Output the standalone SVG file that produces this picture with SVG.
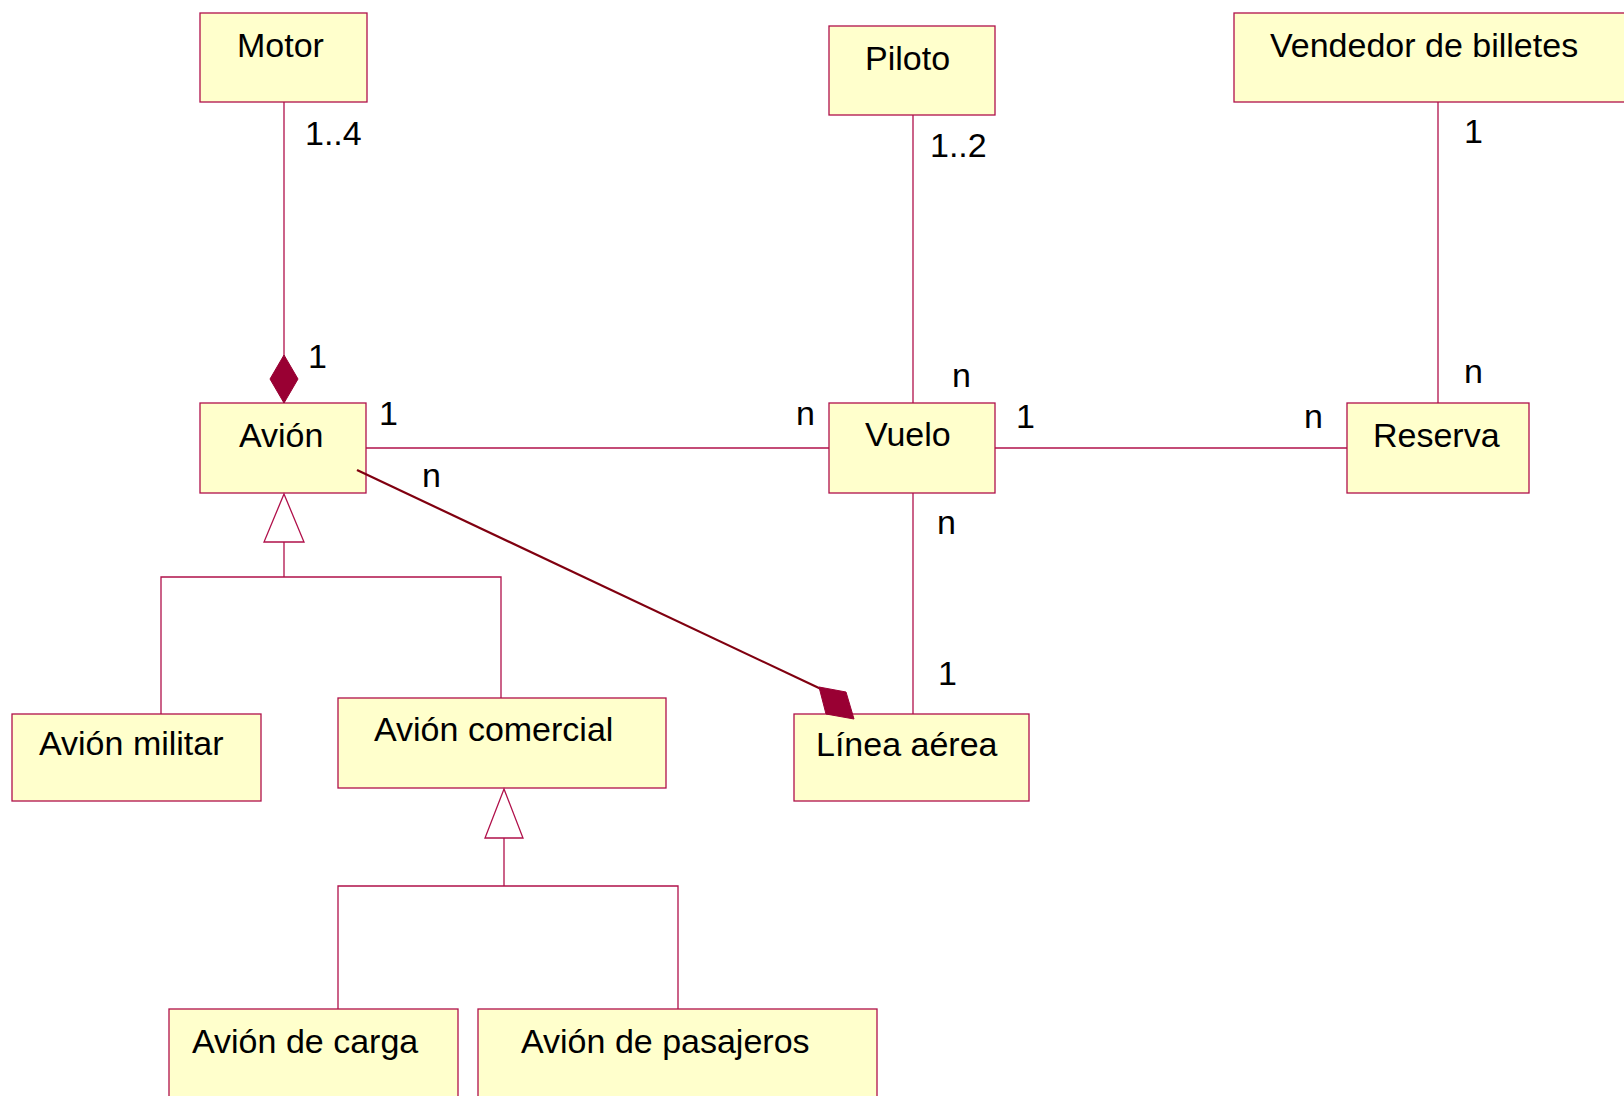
<svg xmlns="http://www.w3.org/2000/svg" width="1624" height="1096" viewBox="0 0 1624 1096">
  <style>
    .box { fill: #FFFFCC; stroke: #B0104A; stroke-width: 1.3; }
    .lbl { font-family: "Liberation Sans", Arial, sans-serif; font-size: 34px; fill: #000; }
    .link { fill: none; stroke: #B0104A; stroke-width: 1.3; }
    .comp { fill: none; stroke: #800010; stroke-width: 2.2; }
    .diamond { fill: #990033; stroke: #990033; stroke-width: 1; }
    .gen { fill: #FFFFFF; stroke: #B0104A; stroke-width: 1.3; }
  </style>
  <rect width="1624" height="1096" fill="#FFFFFF"/>

  <!-- nodes -->
  <g id="motor">
    <rect class="box" x="200" y="13" width="167" height="89"/>
    <text class="lbl" x="237" y="57">Motor</text>
  </g>
  <g id="piloto">
    <rect class="box" x="829" y="26" width="166" height="89"/>
    <text class="lbl" x="865" y="70">Piloto</text>
  </g>
  <g id="vendedor">
    <rect class="box" x="1234" y="13" width="400" height="89"/>
    <text class="lbl" x="1270" y="57">Vendedor de billetes</text>
  </g>
  <g id="avion">
    <rect class="box" x="200" y="403" width="166" height="90"/>
    <text class="lbl" x="239" y="447">Avión</text>
  </g>
  <g id="vuelo">
    <rect class="box" x="829" y="403" width="166" height="90"/>
    <text class="lbl" x="865" y="446">Vuelo</text>
  </g>
  <g id="reserva">
    <rect class="box" x="1347" y="403" width="182" height="90"/>
    <text class="lbl" x="1373" y="447">Reserva</text>
  </g>
  <g id="avion-militar">
    <rect class="box" x="12" y="714" width="249" height="87"/>
    <text class="lbl" x="39" y="755">Avión militar</text>
  </g>
  <g id="avion-comercial">
    <rect class="box" x="338" y="698" width="328" height="90"/>
    <text class="lbl" x="374" y="741">Avión comercial</text>
  </g>
  <g id="linea-aerea">
    <rect class="box" x="794" y="714" width="235" height="87"/>
    <text class="lbl" x="816" y="756">Línea aérea</text>
  </g>
  <g id="avion-carga">
    <rect class="box" x="169" y="1009" width="289" height="100"/>
    <text class="lbl" x="192" y="1053">Avión de carga</text>
  </g>
  <g id="avion-pasajeros">
    <rect class="box" x="478" y="1009" width="399" height="100"/>
    <text class="lbl" x="521" y="1053">Avión de pasajeros</text>
  </g>

  <!-- connectors (drawn over the boxes) -->
  <g id="connectors">
    <!-- Motor - Avión (composition) -->
    <line class="link" x1="284" y1="102" x2="284" y2="356"/>
    <polygon class="diamond" points="284,355 298,379 284,403 270,379"/>
    <!-- Piloto - Vuelo -->
    <line class="link" x1="913" y1="115" x2="913" y2="403"/>
    <!-- Vendedor de billetes - Reserva -->
    <line class="link" x1="1438" y1="102" x2="1438" y2="403"/>
    <!-- Avión - Vuelo -->
    <line class="link" x1="366" y1="448" x2="829" y2="448"/>
    <!-- Vuelo - Reserva -->
    <line class="link" x1="995" y1="448" x2="1347" y2="448"/>
    <!-- Vuelo - Línea aérea -->
    <line class="link" x1="913" y1="493" x2="913" y2="714"/>
    <!-- Avión - Línea aérea (composition) -->
    <line class="comp" x1="357" y1="470" x2="821" y2="689"/>
    <polygon class="diamond" points="819,687 846,692 854,719 826,714"/>
    <!-- generalization: Avión -->
    <polyline class="link" points="284,542 284,577"/>
    <polyline class="link" points="161,714 161,577 501,577 501,698"/>
    <polygon class="gen" points="284,494 304,542 264,542"/>
    <!-- generalization: Avión comercial -->
    <polyline class="link" points="504,838 504,886"/>
    <polyline class="link" points="338,1009 338,886 678,886 678,1009"/>
    <polygon class="gen" points="504,789 523,838 485,838"/>
  </g>

  <!-- multiplicities -->
  <g id="multiplicities">
    <text class="lbl" x="305" y="145">1..4</text>
    <text class="lbl" x="308" y="368">1</text>
    <text class="lbl" x="379" y="425">1</text>
    <text class="lbl" x="422" y="487">n</text>
    <text class="lbl" x="796" y="425">n</text>
    <text class="lbl" x="952" y="387">n</text>
    <text class="lbl" x="930" y="157">1..2</text>
    <text class="lbl" x="1016" y="428">1</text>
    <text class="lbl" x="1304" y="428">n</text>
    <text class="lbl" x="1464" y="143">1</text>
    <text class="lbl" x="1464" y="383">n</text>
    <text class="lbl" x="937" y="534">n</text>
    <text class="lbl" x="938" y="685">1</text>
  </g>
</svg>
